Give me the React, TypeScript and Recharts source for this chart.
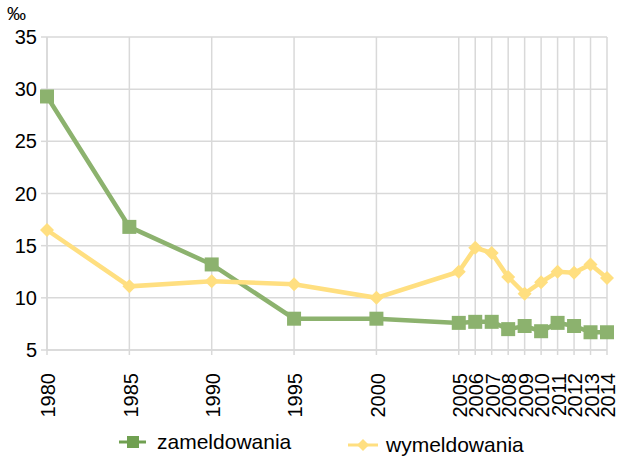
import { LineChart, Line, XAxis, YAxis, CartesianGrid, Legend } from 'recharts';

const years = [1980, 1985, 1990, 1995, 2000, 2005, 2006, 2007, 2008, 2009, 2010, 2011, 2012, 2013, 2014];
const zameldowania = [29.3, 16.8, 13.2, 8.0, 8.0, 7.6, 7.7, 7.7, 7.0, 7.3, 6.8, 7.6, 7.3, 6.7, 6.7];
const wymeldowania = [16.5, 11.1, 11.6, 11.3, 10.0, 12.5, 14.8, 14.3, 12.0, 10.4, 11.5, 12.5, 12.4, 13.2, 11.9];
const yTicks = [5, 10, 15, 20, 25, 30, 35];

const data = years.map((year, i) => ({
  year,
  zameldowania: zameldowania[i],
  wymeldowania: wymeldowania[i],
}));

const GREEN = '#8cb26e';
const GREEN_DARK = '#70a051';
const YELLOW = '#ffdf80';
const GRID = '#d9d9d9';
const FONT = '"Liberation Sans", Arial, sans-serif';

const SquareDot = (props: any) => {
  const { cx, cy } = props;
  if (cx == null || cy == null) return null;
  return <rect x={cx - 7} y={cy - 7} width={14} height={14} fill={GREEN} />;
};

const DiamondDot = (props: any) => {
  const { cx, cy } = props;
  if (cx == null || cy == null) return null;
  const r = 7;
  return <path d={`M${cx},${cy - r}L${cx + r},${cy}L${cx},${cy + r}L${cx - r},${cy}Z`} fill={YELLOW} />;
};

const YearTick = (props: any) => {
  const { x, y, payload } = props;
  return (
    <text
      transform={`translate(${x + 1},${y + 16}) rotate(-90)`}
      textAnchor="end"
      dy="0.36em"
      fontSize={20}
      fill="#000"
      fontFamily={FONT}
    >
      {payload.value}
    </text>
  );
};

const renderLegend = () => (
  <div style={{ position: 'relative', height: 49, fontFamily: FONT, fontSize: 21, color: '#000' }}>
    <div style={{ position: 'absolute', left: 119, top: 25, display: 'flex', alignItems: 'center' }}>
      <svg width={28} height={14}>
        <line x1={0} y1={7} x2={27} y2={7} stroke={GREEN_DARK} strokeWidth={3} />
        <rect x={8} y={1} width={12} height={12} fill={GREEN_DARK} />
      </svg>
      <span style={{ marginLeft: 10, lineHeight: '14px' }}>zameldowania</span>
    </div>
    <div style={{ position: 'absolute', left: 348, top: 28, display: 'flex', alignItems: 'center' }}>
      <svg width={30} height={14}>
        <line x1={0} y1={7} x2={30} y2={7} stroke={YELLOW} strokeWidth={3} />
        <path d="M15,1L21,7L15,13L9,7Z" fill={YELLOW} />
      </svg>
      <span style={{ marginLeft: 8, lineHeight: '14px' }}>wymeldowania</span>
    </div>
  </div>
);

export default function App() {
  return (
    <div style={{ position: 'absolute', left: 0, top: 0, width: 622, height: 459, background: '#fff' }}>
      <div style={{ position: 'absolute', left: 7, top: 3, fontFamily: FONT, fontSize: 19, color: '#000' }}>‰</div>
      <LineChart
        width={622}
        height={459}
        data={data}
        margin={{ top: 37, right: 15, left: 0, bottom: 0 }}
      >
        <CartesianGrid stroke={GRID} strokeWidth={1.5} />
        <XAxis
          dataKey="year"
          type="number"
          domain={[1980, 2014]}
          ticks={years}
          interval={0}
          height={60}
          tick={<YearTick />}
          tickLine={{ stroke: GRID, strokeWidth: 1.5 }}
          tickSize={5}
          axisLine={{ stroke: GRID, strokeWidth: 1.5 }}
        />
        <YAxis
          domain={[5, 35]}
          ticks={yTicks}
          width={47}
          tickSize={6}
          tickMargin={4}
          tickLine={{ stroke: GRID, strokeWidth: 1.5 }}
          axisLine={{ stroke: GRID, strokeWidth: 1.5 }}
          tick={{ fill: '#000', fontSize: 20, fontFamily: FONT }}
        />
        <Legend verticalAlign="bottom" height={49} content={renderLegend} />
        <Line
          dataKey="zameldowania"
          stroke={GREEN}
          strokeWidth={4.5}
          dot={<SquareDot />}
          activeDot={false}
          isAnimationActive={false}
        />
        <Line
          dataKey="wymeldowania"
          stroke={YELLOW}
          strokeWidth={4.5}
          dot={<DiamondDot />}
          activeDot={false}
          isAnimationActive={false}
        />
      </LineChart>
    </div>
  );
}
